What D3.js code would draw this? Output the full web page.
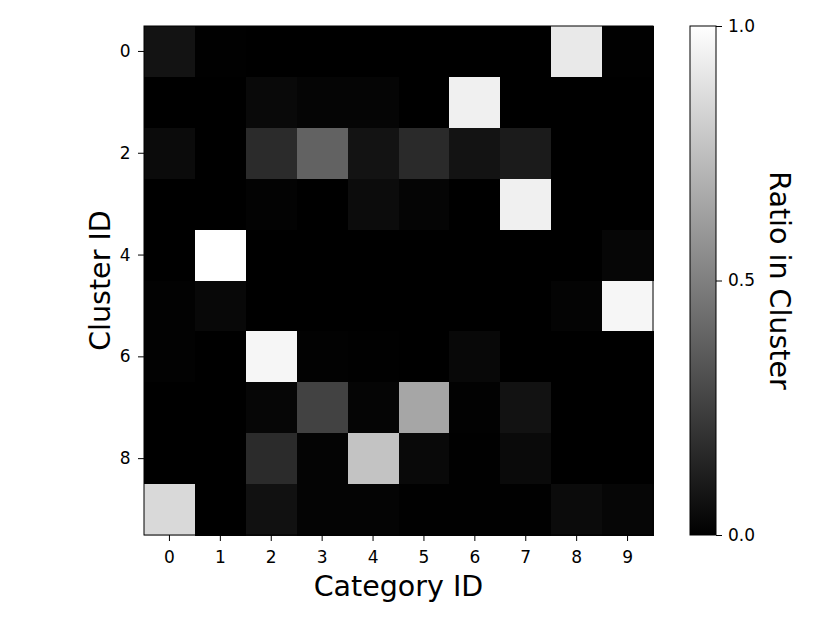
<!DOCTYPE html>
<html>
<head>
<meta charset="utf-8">
<script src="https://cdn.jsdelivr.net/npm/d3@7"></script>
<style>
  body { margin: 0; background: #fff; }
  text { font-family: "DejaVu Sans", sans-serif; fill: #000; }
  .tick text { font-size: 17px; }
</style>
</head>
<body>
<svg width="830" height="623"></svg>
<script>
// rows = cluster id, columns = category id
var clusters = [0, 1, 2, 3, 4, 5, 6, 7, 8, 9];
var categories = [0, 1, 2, 3, 4, 5, 6, 7, 8, 9];
var row0 = [0.075, 0.005, 0, 0, 0, 0, 0, 0, 0.915, 0.005];
var row1 = [0, 0, 0.035, 0.02, 0.02, 0, 0.94, 0, 0, 0];
var row2 = [0.045, 0, 0.17, 0.385, 0.075, 0.165, 0.075, 0.105, 0, 0];
var row3 = [0, 0, 0.01, 0, 0.047, 0.02, 0, 0.94, 0, 0];
var row4 = [0, 1.0, 0, 0, 0, 0, 0, 0, 0, 0.025];
var row5 = [0.008, 0.03, 0, 0, 0, 0, 0, 0, 0.015, 0.965];
var row6 = [0.008, 0, 0.965, 0.008, 0.004, 0, 0.03, 0, 0, 0];
var row7 = [0, 0, 0.025, 0.26, 0.02, 0.65, 0.008, 0.07, 0, 0];
var row8 = [0, 0, 0.17, 0.015, 0.765, 0.035, 0.004, 0.04, 0, 0];
var row9 = [0.85, 0, 0.067, 0.015, 0.015, 0.004, 0.004, 0.004, 0.045, 0.025];
var rows = [row0, row1, row2, row3, row4, row5, row6, row7, row8, row9];
var yTicks = [0, 2, 4, 6, 8];
var cbarTicks = [0, 0.5, 1];

var drawChart = function() {
    var svg = d3.select("svg");
    var left = 144, topY = 26, size = 509;

    var x = d3.scaleBand().domain(categories).range([left, left + size]);
    var y = d3.scaleBand().domain(clusters).range([topY, topY + size]);
    var grey = function(v) { var g = Math.round(v * 255); return d3.rgb(g, g, g); };

    var cells = [];
    rows.forEach(function(r, i) {
        r.forEach(function(v, j) { cells.push({row: clusters[i], col: categories[j], v: v}); });
    });

    svg.append("g")
        .attr("shape-rendering", "crispEdges")
        .selectAll("rect")
        .data(cells).enter()
        .append("rect")
            .attr("x", function(d) { return x(d.col); })
            .attr("y", function(d) { return y(d.row); })
            .attr("width", x.bandwidth() + 1)
            .attr("height", y.bandwidth() + 1)
            .attr("fill", function(d) { return grey(d.v); });

    svg.append("rect")
        .attr("x", left).attr("y", topY)
        .attr("width", size).attr("height", size)
        .attr("fill", "none").attr("stroke", "#000").attr("stroke-width", 1);

    var xAxis = svg.append("g")
        .attr("transform", "translate(0," + (topY + size) + ")")
        .call(d3.axisBottom(x).tickSize(6).tickPadding(10));
    var yAxis = svg.append("g")
        .attr("transform", "translate(" + left + ",0)")
        .call(d3.axisLeft(y).tickValues(yTicks).tickSize(6).tickPadding(7.5));
    [xAxis, yAxis].forEach(function(a) {
        a.attr("font-size", 17).attr("font-family", "DejaVu Sans");
        a.select(".domain").remove();
        a.selectAll("line").attr("stroke", "#000");
    });

    svg.append("text")
        .attr("x", left + size / 2).attr("y", 596)
        .attr("text-anchor", "middle")
        .style("font-size", "28.5px")
        .text("Category ID");

    svg.append("text")
        .attr("transform", "translate(110," + (topY + size / 2) + ") rotate(-90)")
        .attr("text-anchor", "middle")
        .style("font-size", "28.5px")
        .text("Cluster ID");

    // colour bar
    var cbX = 690, cbW = 26;
    var c = d3.scaleLinear().domain([0, 1]).range([topY + size, topY]);
    var grad = svg.append("defs").append("linearGradient")
        .attr("id", "cbar").attr("x1", 0).attr("y1", 1).attr("x2", 0).attr("y2", 0);
    grad.append("stop").attr("offset", 0).attr("stop-color", "#000");
    grad.append("stop").attr("offset", 1).attr("stop-color", "#fff");

    svg.append("rect")
        .attr("x", cbX).attr("y", topY)
        .attr("width", cbW).attr("height", size)
        .attr("fill", "url(#cbar)")
        .attr("stroke", "#000").attr("stroke-width", 1);

    var cAxis = svg.append("g")
        .attr("transform", "translate(" + (cbX + cbW) + ",0)")
        .call(d3.axisRight(c).tickValues(cbarTicks).tickFormat(d3.format(".1f")).tickSize(6).tickPadding(6));
    cAxis.attr("font-size", 17).attr("font-family", "DejaVu Sans");
    cAxis.select(".domain").remove();

    svg.append("text")
        .attr("transform", "translate(770," + (topY + size / 2) + ") rotate(90)")
        .attr("text-anchor", "middle")
        .style("font-size", "28.5px")
        .text("Ratio in Cluster");
};

drawChart();
</script>
</body>
</html>
